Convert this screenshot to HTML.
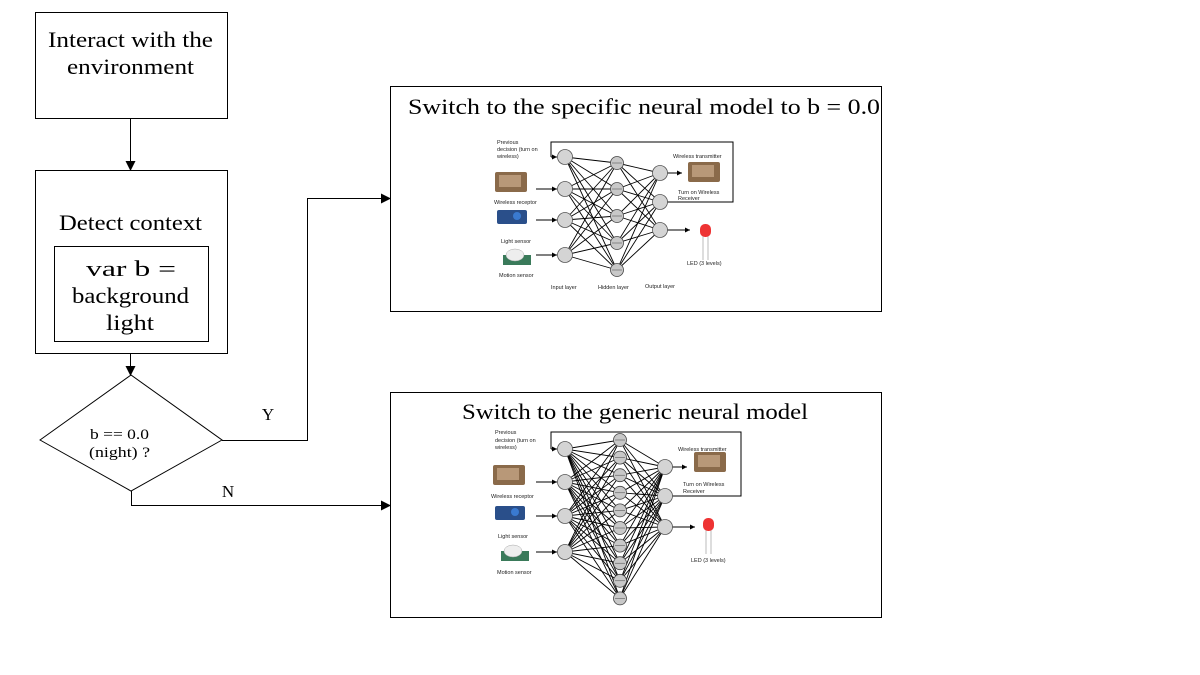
<!DOCTYPE html>
<html><head><meta charset="utf-8"><style>
body{margin:0;background:#fff;width:1200px;height:675px;overflow:hidden}
svg{display:block}
.t{font-family:"Liberation Serif",serif;fill:#000}
.s{font-family:"Liberation Sans",sans-serif;font-size:5.5px;fill:#222}
</style></head><body>
<svg id="s" width="1200" height="675" viewBox="0 0 1200 675" xmlns="http://www.w3.org/2000/svg">
<defs>
<marker id="a" markerWidth="10" markerHeight="10" refX="9" refY="5" orient="auto" markerUnits="userSpaceOnUse"><path d="M0,0 L10,5 L0,10z" fill="#000"/></marker>
<marker id="m" markerWidth="5" markerHeight="5" refX="5" refY="2.5" orient="auto" markerUnits="userSpaceOnUse"><path d="M0,0 L5,2.5 L0,5z" fill="#000"/></marker>
</defs>
<g fill="none" stroke="#000" stroke-width="1">
<rect x="35.5" y="12.5" width="192" height="106"/>
<rect x="35.5" y="170.5" width="192" height="183"/>
<rect x="54.5" y="246.5" width="154" height="95"/>
<polygon points="40,440 131,375 222,440 131,491"/>
<rect x="390.5" y="86.5" width="491" height="225"/>
<rect x="390.5" y="392.5" width="491" height="225"/>
<line x1="130.5" y1="118" x2="130.5" y2="170" marker-end="url(#a)"/>
<line x1="130.5" y1="353" x2="130.5" y2="375" marker-end="url(#a)"/>
<polyline points="222,440.5 307.5,440.5 307.5,198.5 390,198.5" marker-end="url(#a)"/>
<polyline points="131.5,491 131.5,505.5 390,505.5" marker-end="url(#a)"/>
</g>
<text class="t" x="48" y="47" font-size="22" textLength="165" lengthAdjust="spacingAndGlyphs">Interact with the</text>
<text class="t" x="67" y="74" font-size="22" textLength="127" lengthAdjust="spacingAndGlyphs">environment</text>
<text class="t" x="59" y="230" font-size="22" textLength="143" lengthAdjust="spacingAndGlyphs">Detect context</text>
<text class="t" x="86" y="276" font-size="22" textLength="90" lengthAdjust="spacingAndGlyphs">var b =</text>
<text class="t" x="72" y="303" font-size="22" textLength="117" lengthAdjust="spacingAndGlyphs">background</text>
<text class="t" x="106" y="330" font-size="22" textLength="48" lengthAdjust="spacingAndGlyphs">light</text>
<text class="t" x="90" y="439" font-size="15" textLength="59" lengthAdjust="spacingAndGlyphs">b == 0.0</text>
<text class="t" x="89" y="457" font-size="15" textLength="61" lengthAdjust="spacingAndGlyphs">(night) ?</text>
<text class="t" x="268" y="420" font-size="17" text-anchor="middle">Y</text>
<text class="t" x="228" y="497" font-size="17" text-anchor="middle">N</text>
<text class="t" x="408" y="114" font-size="22" textLength="472" lengthAdjust="spacingAndGlyphs">Switch to  the specific neural model to b = 0.0</text>
<text class="t" x="462" y="419" font-size="22" textLength="346" lengthAdjust="spacingAndGlyphs">Switch to the generic neural model</text>
<g id="n1"></g><g id="n2"></g>
<text class="s" x="497" y="144">Previous</text><text class="s" x="497" y="151">decision (turn on</text><text class="s" x="497" y="158">wireless)</text>
<text class="s" x="494" y="204">Wireless receptor</text>
<text class="s" x="501" y="243">Light sensor</text>
<text class="s" x="499" y="277">Motion sensor</text>
<text class="s" x="551" y="289">Input layer</text>
<text class="s" x="598" y="289">Hidden layer</text>
<text class="s" x="645" y="288">Output layer</text>
<text class="s" x="673" y="158">Wireless transmitter</text>
<text class="s" x="678" y="194">Turn on Wireless</text><text class="s" x="678" y="200">Receiver</text>
<text class="s" x="687" y="265">LED (3 levels)</text>
<text class="s" x="495" y="434">Previous</text><text class="s" x="495" y="442">decision (turn on</text><text class="s" x="495" y="449">wireless)</text>
<text class="s" x="491" y="498">Wireless receptor</text>
<text class="s" x="498" y="538">Light sensor</text>
<text class="s" x="497" y="574">Motion sensor</text>
<text class="s" x="678" y="451">Wireless transmitter</text>
<text class="s" x="683" y="486">Turn on Wireless</text><text class="s" x="683" y="493">Receiver</text>
<text class="s" x="691" y="562">LED (3 levels)</text>
</svg>
<script>
var NS="http://www.w3.org/2000/svg";
function el(g,t,a){var e=document.createElementNS(NS,t);for(var k in a)e.setAttribute(k,a[k]);g.appendChild(e);return e;}
function chip(g,x,y){el(g,"rect",{x:x,y:y,width:32,height:20,fill:"#8a6a4a",rx:2});el(g,"rect",{x:x+4,y:y+3,width:22,height:12,fill:"#b89878"});}
function net(id,inp,hid,out,loop,devs){
 var g=document.getElementById(id);
 var ix=565,hx=hid.x,ox=out.x;
 inp.forEach(function(a){hid.y.forEach(function(b){el(g,"line",{x1:ix,y1:a,x2:hx,y2:b,stroke:"#000","stroke-width":0.9});});});
 hid.y.forEach(function(a){out.y.forEach(function(b){el(g,"line",{x1:hx,y1:a,x2:ox,y2:b,stroke:"#000","stroke-width":0.9});});});
 el(g,"polyline",{points:"551,"+(inp[0])+" 551,"+loop.top+" "+loop.right+","+loop.top+" "+loop.right+","+out.y[1]+" "+ox+","+out.y[1],fill:"none",stroke:"#000","stroke-width":1});
 el(g,"line",{x1:551,y1:inp[0],x2:557,y2:inp[0],stroke:"#000","stroke-width":1,"marker-end":"url(#m)"});
 for(var i=1;i<4;i++)el(g,"line",{x1:536,y1:inp[i],x2:557,y2:inp[i],stroke:"#000","stroke-width":1,"marker-end":"url(#m)"});
 el(g,"line",{x1:ox+7,y1:out.y[0],x2:ox+22,y2:out.y[0],stroke:"#000","stroke-width":1,"marker-end":"url(#m)"});
 el(g,"line",{x1:ox+7,y1:out.y[2],x2:ox+30,y2:out.y[2],stroke:"#000","stroke-width":1,"marker-end":"url(#m)"});
 inp.forEach(function(y){el(g,"circle",{cx:ix,cy:y,r:7.5,fill:"#d4d4d4",stroke:"#555","stroke-width":0.8});});
 out.y.forEach(function(y){el(g,"circle",{cx:ox,cy:y,r:7.5,fill:"#d4d4d4",stroke:"#555","stroke-width":0.8});});
 hid.y.forEach(function(y){el(g,"circle",{cx:hx,cy:y,r:6.5,fill:"#c8c8c8",stroke:"#444","stroke-width":0.8});el(g,"line",{x1:hx-5,y1:y,x2:hx+5,y2:y,stroke:"#444","stroke-width":0.5});});
 chip(g,devs.rx,devs.ry);
 el(g,"rect",{x:devs.lx,y:devs.ly,width:30,height:14,fill:"#2a4f8a",rx:2});el(g,"circle",{cx:devs.lx+20,cy:devs.ly+6,r:4,fill:"#3a7ad0"});
 el(g,"rect",{x:devs.mx,y:devs.my+6,width:28,height:10,fill:"#3a7a5a"});el(g,"ellipse",{cx:devs.mx+12,cy:devs.my+6,rx:9,ry:6,fill:"#eee",stroke:"#aaa","stroke-width":0.5});
 chip(g,devs.tx,devs.ty);
 el(g,"line",{x1:devs.ex+3,y1:devs.ey+12,x2:devs.ex+3,y2:devs.ey+36,stroke:"#bbb","stroke-width":1});
 el(g,"line",{x1:devs.ex+8,y1:devs.ey+12,x2:devs.ex+8,y2:devs.ey+36,stroke:"#bbb","stroke-width":1});
 el(g,"rect",{x:devs.ex,y:devs.ey,width:11,height:13,fill:"#e33",rx:5});
}
net("n1",[157,189,220,255],{x:617,y:[163,189,216,243,270]},{x:660,y:[173,202,230]},{top:142,right:733},
 {rx:495,ry:172,lx:497,ly:210,mx:503,my:249,tx:688,ty:162,ex:700,ey:224});
var hy=[];for(var i=0;i<10;i++)hy.push(440+i*17.6);
net("n2",[449,482,516,552],{x:620,y:hy},{x:665,y:[467,496,527]},{top:432,right:741},
 {rx:493,ry:465,lx:495,ly:506,mx:501,my:545,tx:694,ty:452,ex:703,ey:518});
</script>
</body></html>
